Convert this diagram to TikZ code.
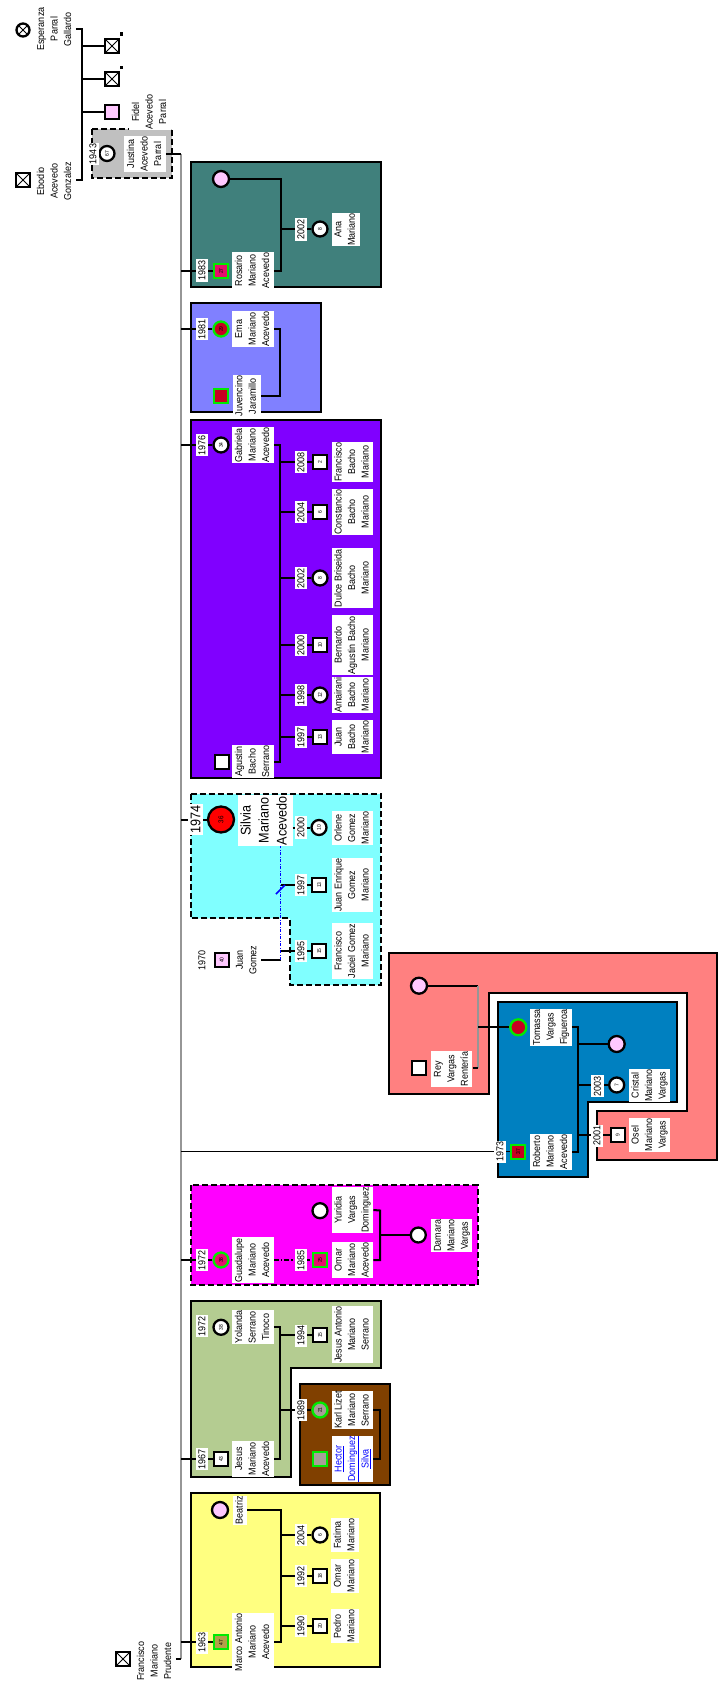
\documentclass[tikz,border=0pt]{standalone}
\usepackage{fontspec}
\setmainfont{Liberation Sans}[FakeStretch=0.9]
\usepackage{graphicx}
\newcommand{\vt}[1]{\rotatebox{90}{\begin{tabular}{@{}c@{}}#1\end{tabular}}}
\newcommand{\ag}[1]{\rotatebox{90}{#1}}
\definecolor{cteal}{RGB}{64,128,124}
\definecolor{clav}{RGB}{128,128,255}
\definecolor{cpurp}{RGB}{128,0,255}
\definecolor{ccyan}{RGB}{128,255,255}
\definecolor{csalm}{RGB}{255,128,128}
\definecolor{cblue}{RGB}{0,128,192}
\definecolor{cmag}{RGB}{255,0,255}
\definecolor{cgreen}{RGB}{180,204,145}
\definecolor{cbrown}{RGB}{128,64,0}
\definecolor{cyell}{RGB}{255,255,128}
\definecolor{jgray}{RGB}{192,192,192}
\definecolor{lpink}{RGB}{255,200,255}
\definecolor{cpink}{RGB}{228,16,108}
\definecolor{dred}{RGB}{200,0,32}
\definecolor{colive}{RGB}{180,160,72}
\definecolor{cgrey}{RGB}{168,158,152}
\definecolor{hhgreen}{RGB}{0,235,0}
\definecolor{glin}{RGB}{150,150,150}
\begin{document}
\begin{tikzpicture}[x=1pt,y=-1pt,font=\fontsize{10}{13.5}\selectfont,
  ln/.style={line width=2pt},
  gline/.style={line width=2.5pt,glin},
  nm/.style={fill=white,inner sep=0.5pt},
  yr/.style={fill=white,inner xsep=2.5pt,inner ysep=1pt},
  sym/.style={draw,line width=2.3pt,inner sep=0pt,fill=white,font=\fontsize{5.5}{5.5}\selectfont},
  man/.style={sym,rectangle,minimum size=14pt},
  wom/.style={sym,circle,minimum size=15pt},
  hh/.style={draw=hhgreen},
  famb/.style={draw,line width=2pt},
  dashb/.style={famb,dash pattern=on 6pt off 3pt},
  xx/.style={path picture={\draw[line width=1pt] (path picture bounding box.north west) -- (path picture bounding box.south east) (path picture bounding box.north east) -- (path picture bounding box.south west);}},
  sepl/.style={blue,line width=1.5pt,dash pattern=on 3pt off 1.5pt on 1pt off 1.5pt}]
  \useasboundingbox (0,0) rectangle (720,1691);
  \draw[famb,fill=cteal] (190.7,162.3) rectangle (380.7,286.7);
  \draw[famb,fill=clav] (190.7,303.3) rectangle (320.7,411.7);
  \draw[famb,fill=cpurp] (190.7,420) rectangle (380.7,778.3);
  \draw[dashb,fill=ccyan] (190.7,794) -- (380.7,794) -- (380.7,985) -- (290,985) -- (290,918.3) -- (190.7,918.3) -- cycle;
  \draw[famb,fill=csalm] (389.3,952.7) -- (716.7,952.7) -- (716.7,1160) -- (597.3,1160) -- (597.3,1110.7) -- (687.3,1110.7) -- (687.3,993.3) -- (488.7,993.3) -- (488.7,1094) -- (389.3,1094) -- cycle;
  \draw[famb,fill=cblue] (498.3,1001.7) -- (677.3,1001.7) -- (677.3,1102.3) -- (588.3,1102.3) -- (588.3,1176.7) -- (498.3,1176.7) -- cycle;
  \draw[dashb,fill=cmag] (190.7,1185) rectangle (477.5,1285);
  \draw[famb,fill=cgreen] (190.7,1301) -- (380.7,1301) -- (380.7,1367.7) -- (291,1367.7) -- (291,1476.7) -- (190.7,1476.7) -- cycle;
  \draw[famb,fill=cbrown] (300,1384) rectangle (390,1485);
  \draw[famb,fill=cyell] (191,1492.7) rectangle (380,1667.3);
  \draw[dashb,fill=jgray] (92,129) rectangle (172,178);
  \coordinate (gtop) at (181,154);
  \coordinate (gbot) at (181,1659);
  \draw[gline] (gtop) -- (gbot);
  % grandparents
  \node[wom,xx,minimum size=13pt] (esp) at (23,30) {};
  \node[nm] (tEsp) at (55,29) {\vt{Esperanza\\Parral\\Gallardo}};
  \node[man,xx] (ebo) at (23,180) {};
  \node[nm] (tEbo) at (55,181) {\vt{Ebodio\\Acevedo\\Gonzalez}};
  \coordinate (mTop) at (82,29);
  \coordinate (mTopB) at (82,180);
  \draw[ln] (tEsp.east) -- (mTop) -- (mTopB) -- (tEbo.east |- mTopB);
  \node[man,xx] (c1) at (112,46) {};
  \node[man,xx] (c2) at (112,79) {};
  \node[man,fill=lpink] (fid) at (112,112) {};
  \node[nm] (tFid) at (150,112) {\vt{Fidel\\Acevedo\\Parral}};
  \foreach \n in {c1,c2,fid}
    \draw[ln] (mTop |- \n) -- (\n);
  \fill (119.8,32.2) rectangle ++(3.5,3.5);
  \fill (119.8,65.6) rectangle ++(3.5,3.5);
  \node[wom] (jus) at (107,153.5) {\ag{67}};
  \node[nm] (tJus) at (145,154) {\vt{Justina\\Acevedo\\Parral}};
  \draw[ln] (tJus.east) -- (gtop);
  \node[yr] (y43) at (93,154) {\ag{1943}};
  \node[man,xx] (fra) at (123,1659) {};
  \node[nm] (tFra) at (155,1661) {\vt{Francisco\\Mariano\\Prudente}};
  \draw[ln] (tFra.east |- gbot) -- (gbot);
  % Rosario
  \node[man,hh,fill=cpink] (ros) at (221,271) {\ag{27}};
  \node[nm] (tRos) at (253,270.5) {\vt{Rosario\\Mariano\\Acevedo}};
  \node[wom,fill=lpink,minimum size=16pt] (pRos) at (221,179) {};
  \coordinate (mRos) at (281,270.5);
  \draw[ln] (tRos.east) -- (mRos) |- (pRos);
  \node[wom] (ana) at (320,229) {\ag{8}};
  \node[nm] (tAna) at (345.5,229.5) {\vt{Ana\\Mariano}};
  \draw[ln] (mRos |- ana) -- (ana);
  \draw[ln] (gtop |- ros) -- (ros);
  \node[yr] (y83) at (202,270.5) {\ag{1983}};
  \node[yr] (y02a) at (301,229.5) {\ag{2002}};
  % Ema
  \node[wom,hh,fill=dred] (ema) at (221,329) {\ag{29}};
  \node[nm] (tEma) at (253,329) {\vt{Ema\\Mariano\\Acevedo}};
  \node[man,hh,fill=dred] (juv) at (221,396) {};
  \node[nm] (tJuv) at (246.5,396) {\vt{Juvencino\\Jaramillo}};
  \coordinate (mEma) at (280,329);
  \draw[ln] (tEma.east) -- (mEma) |- (tJuv.east);
  \draw[ln] (gtop |- ema) -- (ema);
  \node[yr] (y81) at (202,329) {\ag{1981}};
  % Gabriela
  \node[wom] (gab) at (221,445) {\ag{34}};
  \node[nm] (tGab) at (253,445) {\vt{Gabriela\\Mariano\\Acevedo}};
  \node[man] (agu) at (221.7,762) {};
  \node[nm] (tAgu) at (253,761.5) {\vt{Agustin\\Bacho\\Serrano}};
  \coordinate (mGab) at (280,445);
  \draw[ln] (tGab.east) -- (mGab) |- (tAgu.east);
  \draw[ln] (gtop |- gab) -- (gab);
  \node[yr] (y76) at (202,445) {\ag{1976}};
  \foreach \n/\yy/\kind/\age/\yr/\lbl in {
      g1/462/man/2/2008/{Francisco\\Bacho\\Mariano},
      g2/512/man/6/2004/{Constancio\\Bacho\\Mariano},
      g3/578/wom/8/2002/{Dulce Briseida\\Bacho\\Mariano},
      g4/645/man/10/2000/{Bernardo\\Agustin Bacho\\Mariano},
      g5/695/wom/12/1998/{Amairani\\Bacho\\Mariano},
      g6/737/man/13/1997/{Juan\\Bacho\\Mariano}}{
    \node[\kind] (\n) at (320,\yy) {\ag{\age}};
    \node[nm] (t\n) at (352.5,\yy) {\vt{\lbl}};
    \draw[ln] (mGab |- \n) -- (\n);
    \node[yr] (y\n) at (301,\yy) {\ag{\yr}};
  }
  % Silvia
  \node[wom,fill=red,minimum size=26pt,font=\fontsize{7}{7}\selectfont] (sil) at (221,819.5) {\ag{36}};
  \node[nm,font=\fontsize{14}{18}\selectfont] (tSil) at (265,820.5) {\vt{Silvia\\Mariano\\Acevedo}};
  \node[man,fill=lpink] (jgo) at (221.7,960) {\ag{40}};
  \node[nm] (tJgo) at (247,960) {\vt{Juan\\Gomez}};
  \coordinate (mSil) at (280.7,960);
  \draw[ln] (tJgo.east) -- (mSil);
  \draw[sepl] (mSil) -- (mSil |- tSil.south);
  \draw[ln] (gtop |- sil) -- (sil);
  \node[wom] (s1) at (319,827.5) {\ag{10}};
  \node[nm] (ts1) at (352.5,828) {\vt{Orlene\\Gomez\\Mariano}};
  \draw[ln] (tSil.east |- s1) -- (s1);
  \node[yr] (ys1) at (301,827.5) {\ag{2000}};
  \foreach \n/\yy/\age/\yr/\lbl in {
      s2/885/13/1997/{Juan Enrique\\Gomez\\Mariano},
      s3/951/15/1995/{Francisco\\Jaciel Gomez\\Mariano}}{
    \node[man] (\n) at (319.3,\yy) {\ag{\age}};
    \node[nm] (t\n) at (352.5,\yy) {\vt{\lbl}};
    \draw[ln] (mSil |- \n) -- (\n);
    \node[yr] (y\n) at (301,\yy) {\ag{\yr}};
  }
  \draw[blue,line width=1.5pt] (276,894) -- (285,885);
  \node[yr,font=\fontsize{14}{15}\selectfont] (y74) at (195.5,819.5) {\ag{1974}};
  \node[yr] (y70) at (202,960) {\ag{1970}};
  % Roberto
  \node[man,hh,fill=dred] (rob) at (518.3,1151.7) {\ag{37}};
  \node[nm] (tRob) at (551,1151.5) {\vt{Roberto\\Mariano\\Acevedo}};
  \node[wom,hh,fill=dred,minimum size=16pt] (tom) at (518.3,1027.3) {};
  \node[nm] (tTom) at (551,1027) {\vt{Tomassa\\Vargas\\Figueroa}};
  \coordinate (mRob) at (578.3,1027);
  \draw[ln] (tTom.east) -- (mRob) |- (tRob.east);
  \node[wom,fill=lpink,minimum size=16pt] (pTom) at (616.7,1044) {};
  \draw[ln] (mRob |- pTom) -- (pTom);
  \node[wom] (cri) at (616.7,1085) {\ag{7}};
  \node[nm] (tCri) at (649.5,1085.5) {\vt{Cristal\\Mariano\\Vargas}};
  \draw[ln] (mRob |- cri) -- (cri);
  \node[man] (ose) at (617.7,1135) {\ag{9}};
  \node[nm] (tOse) at (649.5,1135) {\vt{Osel\\Mariano\\Vargas}};
  \draw[ln] (mRob |- ose) -- (ose);
  \draw[line width=1.2pt] (gtop |- rob) -- (rob);
  \node[wom,fill=lpink,minimum size=16pt] (pRey) at (419,985.7) {};
  \node[man] (rey) at (419.3,1068.3) {};
  \node[nm] (tRey) at (451.7,1069) {\vt{Rey\\Vargas\\Rentería}};
  \coordinate (mRey) at (478.3,985.7);
  \coordinate (mReyB) at (478.3,1068.3);
  \draw[ln] (pRey) -- (mRey);
  \draw[gline,line width=2pt] (mRey) -- (mReyB);
  \draw[ln] (tRey.east |- mReyB) -- (mReyB);
  \draw[ln] (mRey |- tom) -- (tom);
  \node[yr] (y73) at (500,1151.7) {\ag{1973}};
  \node[yr] (y03) at (597.5,1086) {\ag{2003}};
  \node[yr] (y01) at (597,1135.5) {\ag{2001}};
  % Guadalupe
  \node[wom,hh,fill=cpink] (gua) at (221,1260) {\ag{38}};
  \node[nm] (tGua) at (253,1260) {\vt{Guadalupe\\Mariano\\Acevedo}};
  \node[man,hh,fill=cpink] (oma) at (320,1260) {\ag{25}};
  \node[nm] (tOma) at (352.5,1260) {\vt{Omar\\Mariano\\Acevedo}};
  \draw[ln,dash pattern=on 5pt off 2pt on 1.5pt off 2pt] (tGua.east) -- (oma);
  \node[wom] (yur) at (320,1210.7) {};
  \node[nm] (tYur) at (352.5,1210) {\vt{Yuridia\\Vargas\\Dominguez}};
  \coordinate (mOma) at (380,1210.5);
  \draw[ln] (tYur.east) -- (mOma) |- (tOma.east);
  \node[wom] (dam) at (418.3,1235) {};
  \node[nm] (tDam) at (451.7,1235.5) {\vt{Damara\\Mariano\\Vargas}};
  \draw[ln] (mOma |- dam) -- (dam);
  \draw[ln] (gtop |- gua) -- (gua);
  \node[yr] (y72a) at (202,1260) {\ag{1972}};
  \node[yr] (y85) at (301,1260) {\ag{1985}};
  % Jesus
  \node[wom] (yol) at (221,1327.3) {\ag{38}};
  \node[nm] (tYol) at (253,1327) {\vt{Yolanda\\Serrano\\Tinoco}};
  \node[man] (jes) at (221,1459) {\ag{43}};
  \node[nm] (tJes) at (253,1459) {\vt{Jesus\\Mariano\\Acevedo}};
  \coordinate (mJes) at (280,1327);
  \draw[ln] (tYol.east) -- (mJes) |- (tJes.east);
  \node[man] (jan) at (320,1335) {\ag{15}};
  \node[nm] (tJan) at (352.5,1334.5) {\vt{Jesus Antonio\\Mariano\\Serrano}};
  \draw[ln] (mJes |- jan) -- (jan);
  \node[wom,hh,fill=cgrey] (kar) at (320,1410) {\ag{21}};
  \node[nm] (tKar) at (352.5,1410) {\vt{Karl Lizet\\Mariano\\Serrano}};
  \draw[ln] (mJes |- kar) -- (kar);
  \node[man,hh,fill=cgrey] (hec) at (320,1459) {};
  \node[nm,text=blue] (tHec) at (352.5,1459) {\vt{\underline{Hector}\\\underline{Dominguez}\\\underline{Silva}}};
  \coordinate (mKar) at (380,1410);
  \draw[ln] (tKar.east) -- (mKar) |- (tHec.east);
  \draw[ln] (gtop |- jes) -- (jes);
  \node[yr] (y72b) at (202,1326) {\ag{1972}};
  \node[yr] (y67) at (202,1459) {\ag{1967}};
  \node[yr] (y94) at (301,1335.5) {\ag{1994}};
  \node[yr] (y89) at (301,1410) {\ag{1989}};
  % Marco Antonio
  \node[man,hh,fill=colive] (mar) at (221,1642.3) {\ag{47}};
  \node[nm] (tMar) at (253,1642) {\vt{Marco Antonio\\Mariano\\Acevedo}};
  \node[wom,fill=lpink,minimum size=16pt] (bea) at (220,1510) {};
  \node[nm] (tBea) at (240,1510) {\vt{Beatriz}};
  \coordinate (mMar) at (280.7,1510);
  \draw[ln] (tBea.east) -- (mMar) |- (tMar.east);
  \foreach \n/\yy/\kind/\age/\yr/\lbl in {
      m1/1535/wom/6/2004/{Fatima\\Mariano},
      m2/1576/man/18/1992/{Omar\\Mariano},
      m3/1626/man/20/1990/{Pedro\\Mariano}}{
    \node[\kind] (\n) at (320,\yy) {\ag{\age}};
    \node[nm] (t\n) at (345,\yy) {\vt{\lbl}};
    \draw[ln] (mMar |- \n) -- (\n);
    \node[yr] (y\n) at (301,\yy) {\ag{\yr}};
  }
  \draw[ln] (gtop |- mar) -- (mar);
  \node[yr] (y63) at (202,1642.5) {\ag{1963}};
\end{tikzpicture}
\end{document}
